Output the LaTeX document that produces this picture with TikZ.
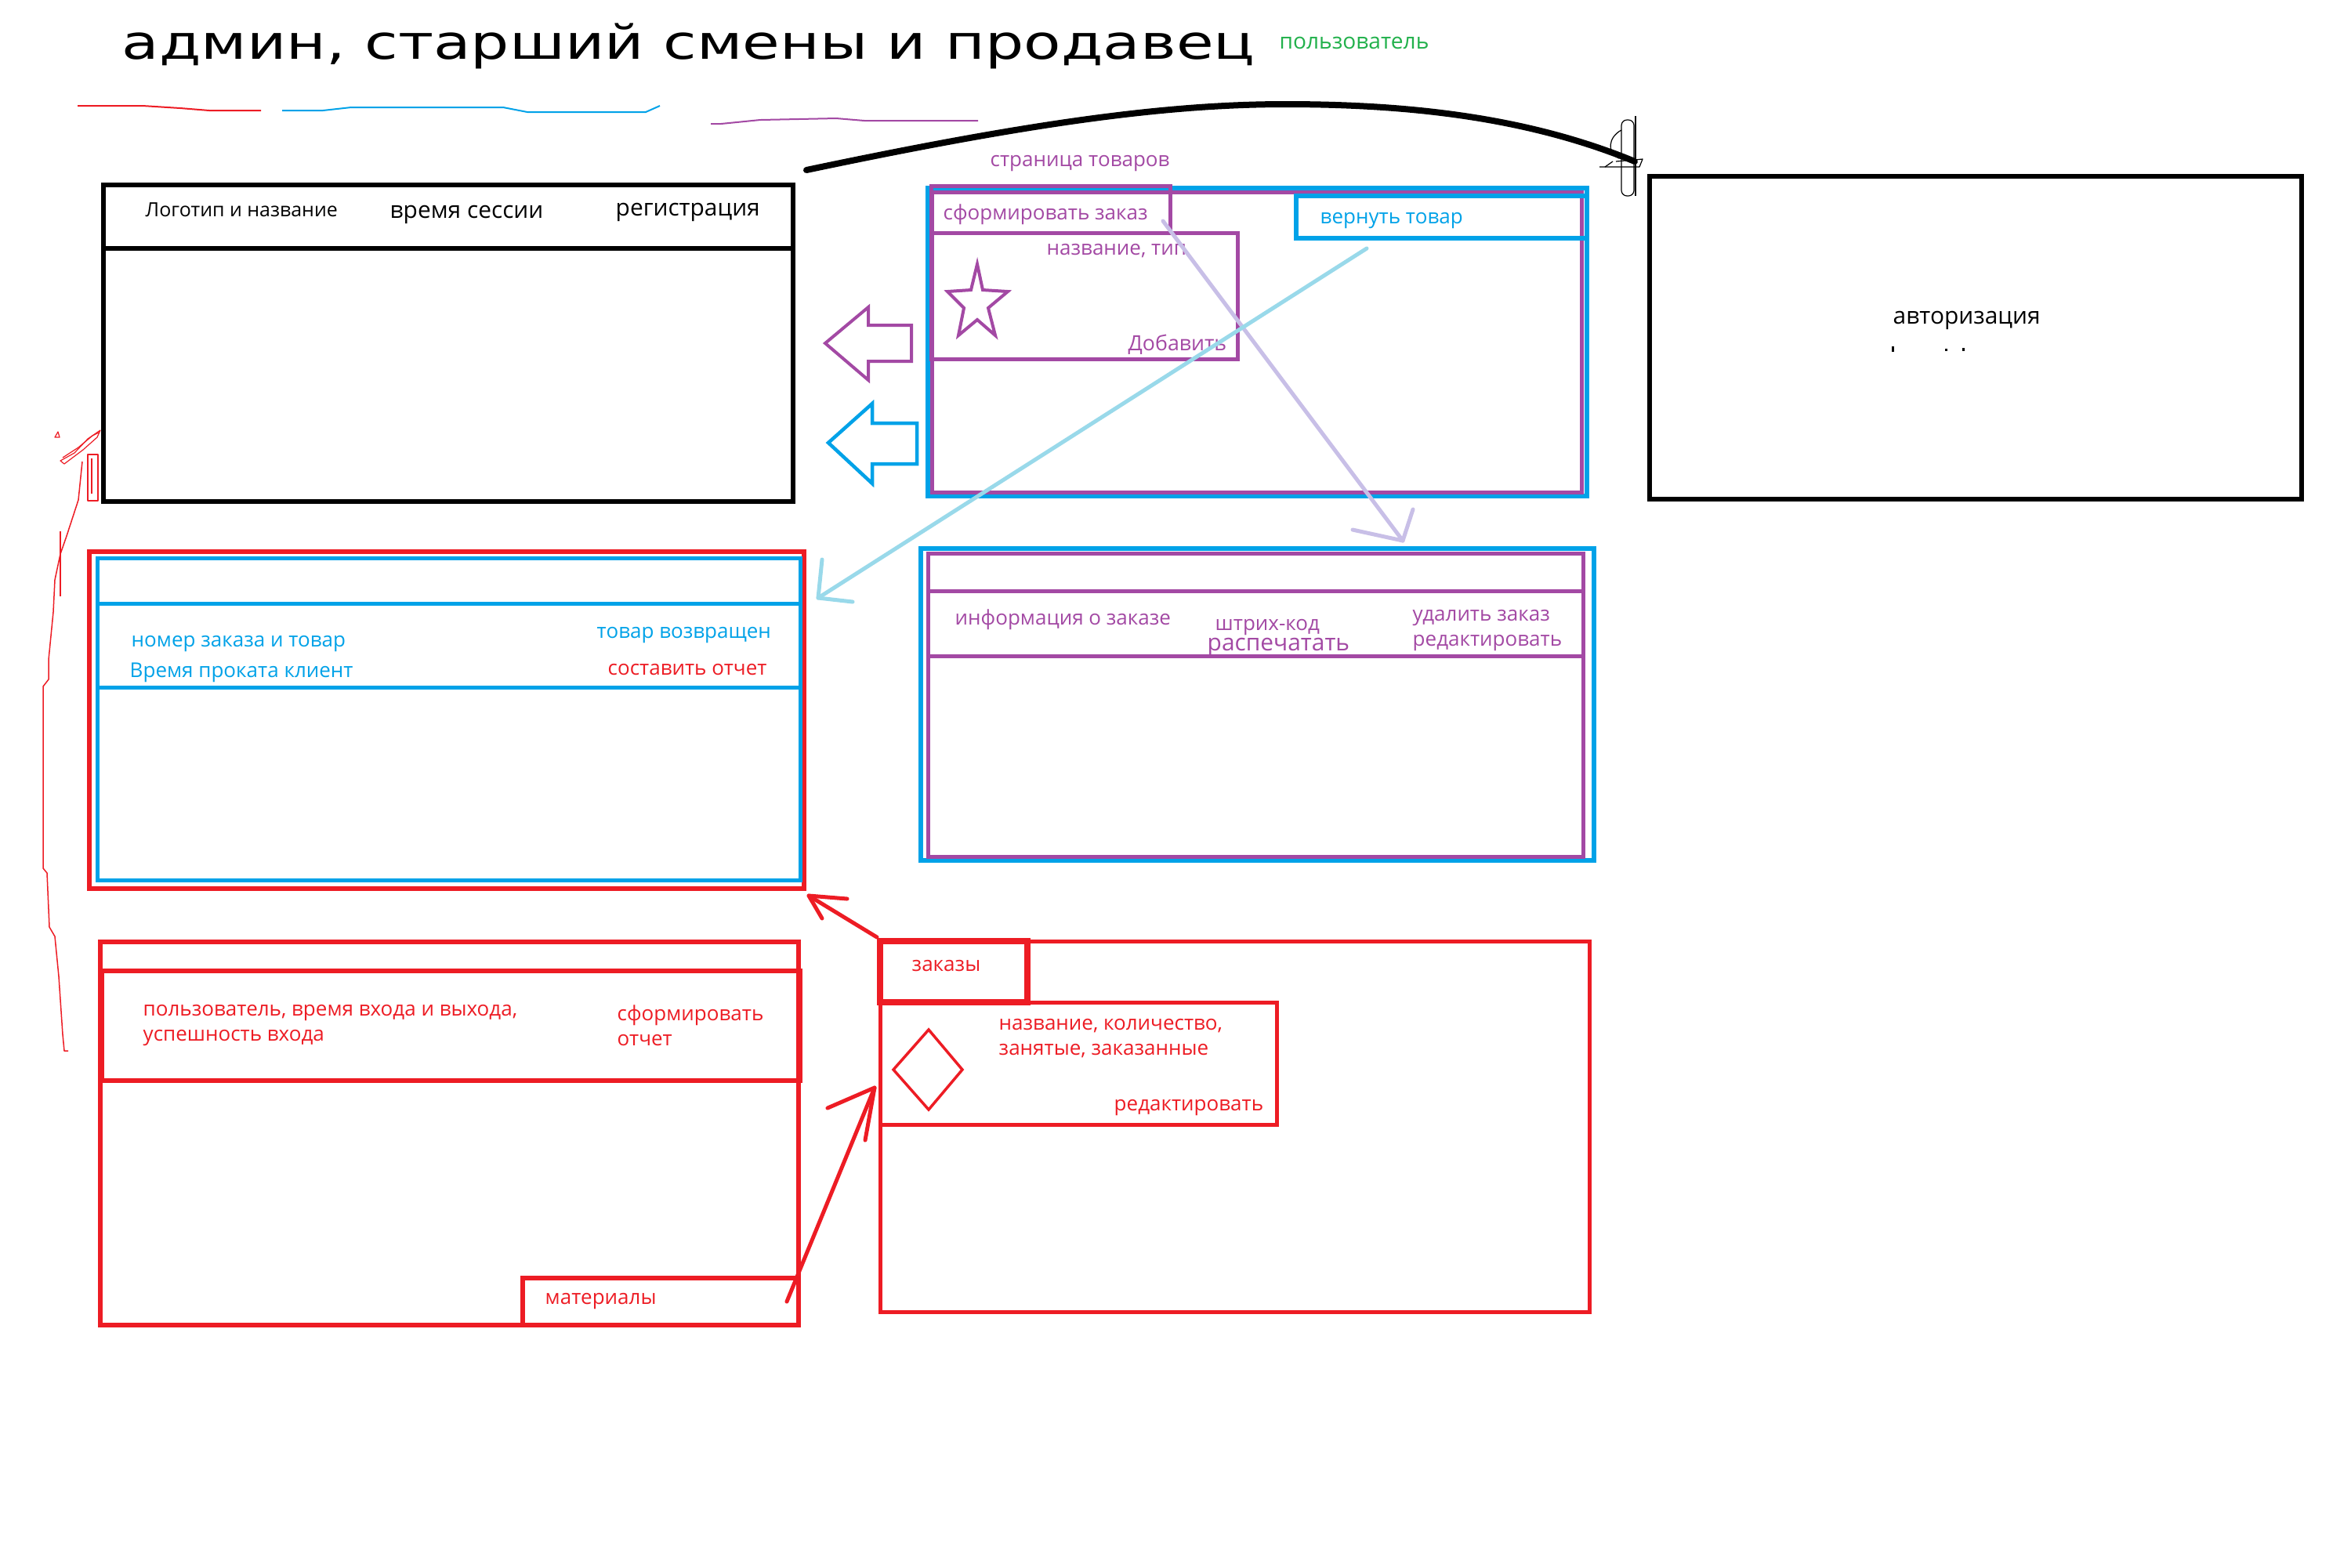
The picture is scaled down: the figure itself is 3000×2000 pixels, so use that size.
\documentclass[tikz,border=0pt]{standalone}
\usepackage{fontspec}
\usepackage{graphicx}
\setmainfont{Open Sans}
\newfontfamily\headfont{DejaVu Sans}
\definecolor{pred}{HTML}{ED1C24}
\definecolor{pblue}{HTML}{00A2E8}
\definecolor{ppurple}{HTML}{A349A4}
\definecolor{plight}{HTML}{99D9EA}
\definecolor{plav}{HTML}{C8BFE7}
\definecolor{pgreen}{HTML}{22B14C}
\tikzset{
  lbl/.style={inner sep=0pt, anchor=base west, font=\fontsize{7.4pt}{8.8pt}\selectfont},
  lblbig/.style={lbl, font=\fontsize{8.5pt}{10pt}\selectfont},
  frame/.style={line width=0.6mm, line join=miter},
  thinframe/.style={line width=0.5mm, line join=miter},
  pen/.style={line width=0.5mm, line cap=round, line join=round},
  scribble/.style={line width=0.12mm, line join=round},
}
\begin{document}
\begin{tikzpicture}[x=0.1mm, y=-0.1mm]
\useasboundingbox (0,0) rectangle (3000,2000);
\fill[white] (0,0) rectangle (3000,2000);

% heading
\node[inner sep=0pt, anchor=base west] (title) at (155,75)
  {\scalebox{1.29}[1]{\headfont\fontsize{17.1pt}{20pt}\selectfont админ, старший смены и продавец}};
\node[lbl, text=pgreen, font=\fontsize{8pt}{9.5pt}\selectfont] (user) at (1632,62) {пользователь};

% colour strokes under the heading
\draw[pred, line width=0.2mm] (99,135) -- (182,135) -- (230,138) -- (267,141) -- (333,141);
\draw[pblue, line width=0.2mm] (360,141) -- (412,141) -- (448,137) -- (642,137) -- (673,143) -- (824,143) -- (842,135);
\draw[ppurple, line width=0.2mm] (907,158) -- (920,158) -- (970,153) -- (1067,151) -- (1103,154) -- (1248,154);

% main header block
\coordinate (hdrA) at (132,236);
\coordinate (hdrB) at (1012,640);
\draw[frame] (hdrA) rectangle (hdrB);
\draw[frame] (132,317) -- (1012,317);
\node[lbl, font=\fontsize{7.1pt}{8.4pt}\selectfont] (logo) at (185,276) {Логотип и название};
\node[lblbig] (session) at (497,278) {время сессии};
\node[lblbig] (reg) at (785,275) {регистрация};

% authorization block and the curved link to it
\draw[frame] (2105,225) rectangle (2937,637);
\node[lblbig] (auth) at (2415,413) {авторизация};
\fill (2414,442) rectangle (2417,449);
\fill (2482,445) rectangle (2485,448);
\fill (2504,444) rectangle (2507,448);
\coordinate (arcS) at (1029,217);
\coordinate (arcE) at (2086,206);
\draw[line width=0.8mm, line cap=round] (arcS) .. controls (1300,160) and (1480,133) .. (1640,133)
  .. controls (1800,133) and (1950,150) .. (arcE);
% hand-drawn tip at the end of the curve
\draw[scribble, rounded corners=2] (2069,153) rectangle (2085,250);
\draw[scribble] (2087,148) -- (2087,250);
\draw[scribble] (2069,166) .. controls (2052,175) and (2050,195) .. (2066,202);
\draw[scribble] (2062,206) -- (2096,203) -- (2092,213) -- (2041,213);
\draw[scribble] (2058,206) -- (2048,213);

% product page
\node[lbl, text=ppurple] (prodtitle) at (1263,212) {страница товаров};
\draw[pblue, frame] (1184,240) rectangle (2025,633);
\draw[ppurple, thinframe] (1189,245) rectangle (2018,628);
\draw[ppurple, thinframe] (1188,237) rectangle (1493,297);
\draw[ppurple, thinframe] (1188,297) rectangle (1579,458);
\draw[pblue, frame] (1654,250) rectangle (2025,304);
\node[lbl, text=ppurple] (mkorder) at (1203,280) {сформировать заказ};
\node[lbl, text=pblue] (ret) at (1684,285) {вернуть товар};
\node[lbl, text=ppurple] (nametype) at (1335,325) {название, тип};
\node[lbl, text=ppurple, font=\fontsize{7.6pt}{9pt}\selectfont] (add) at (1439,447) {Добавить};
\draw[ppurple, line width=0.4mm, line join=miter]
  (1247,337) -- (1254,370) -- (1286,372) -- (1261,393) -- (1270,428) -- (1247,408)
  -- (1223,428) -- (1230,393) -- (1209,372) -- (1239,370) -- cycle;

% block arrows between the pages
\draw[ppurple, line width=0.4mm, line join=miter]
  (1053,438) -- (1108,392) -- (1108,415) -- (1163,415) -- (1163,461) -- (1108,461) -- (1108,485) -- cycle;
\draw[pblue, line width=0.45mm, line join=miter]
  (1057,565) -- (1113,515) -- (1113,540) -- (1170,540) -- (1170,592) -- (1113,592) -- (1113,617) -- cycle;

% order information page
\draw[pblue, frame] (1175,700) rectangle (2034,1098);
\draw[ppurple, thinframe] (1184,706) rectangle (2020,1093);
\draw[ppurple, thinframe] (1184,754) -- (2020,754);
\draw[ppurple, thinframe] (1184,837) -- (2020,837);
\node[lbl, text=ppurple] (info) at (1218,797) {информация о заказе};
\node[lbl, text=ppurple] (barcode) at (1550,804) {штрих-код};
\node[lblbig, text=ppurple] (print) at (1540,830) {распечатать};
\node[lbl, text=ppurple] (del) at (1802,792) {удалить заказ};
\node[lbl, text=ppurple] (edit1) at (1802,824) {редактировать};

% returns page
\draw[pred, frame] (114,704) rectangle (1026,1134);
\draw[pblue, thinframe] (124,712) rectangle (1021,1123);
\draw[pblue, thinframe] (124,770) -- (1021,770);
\draw[pblue, thinframe] (124,877) -- (1021,877);
\node[lbl, text=pblue] (num) at (167,825) {номер заказа и товар};
\node[lbl, text=pblue] (rent) at (165,864) {Время проката клиент};
\node[lbl, text=pblue] (back) at (761,814) {товар возвращен};
\node[lbl, text=pred] (rep1) at (775,861) {составить отчет};

% connectors drawn over the product page
\coordinate (lavS) at (1484,282);
\coordinate (lavT) at (1790,690);
\draw[plav, pen] (lavS) -- (lavT);
\draw[plav, pen] (1726,676) -- (lavT) -- (1803,650);
\coordinate (lbS) at (1744,317);
\coordinate (lbT) at (1044,763);
\draw[plight, pen] (lbS) -- (lbT);
\draw[plight, pen] (1049,714) -- (lbT) -- (1088,768);

% login journal page
\draw[pred, frame] (128,1202) rectangle (1019,1691);
\draw[pred, frame] (130,1239) rectangle (1021,1379);
\draw[pred, frame] (667,1631) rectangle (1019,1691);
\node[lbl, text=pred] (log1) at (182,1296) {пользователь, время входа и выхода,};
\node[lbl, text=pred] (log2) at (182,1328) {успешность входа};
\node[lbl, text=pred] (rep2a) at (787,1302) {сформировать};
\node[lbl, text=pred] (rep2b) at (787,1334) {отчет};
\node[lbl, text=pred] (mat) at (695,1664) {материалы};

% orders page
\draw[pred, thinframe] (1123,1201) rectangle (2028,1674);
\draw[pred, line width=0.75mm, line join=miter] (1123,1201) rectangle (1311,1279);
\draw[pred, thinframe] (1123,1279) rectangle (1629,1435);
\node[lbl, text=pred] (orders) at (1163,1239) {заказы};
\node[lbl, text=pred] (qty1) at (1274,1314) {название, количество,};
\node[lbl, text=pred] (qty2) at (1274,1346) {занятые, заказанные};
\node[lbl, text=pred] (edit2) at (1421,1417) {редактировать};
\draw[pred, line width=0.35mm, line join=miter] (1185,1314) -- (1228,1365) -- (1185,1416) -- (1140,1365) -- cycle;

% red connectors
\coordinate (rS1) at (1004,1661);
\coordinate (rT1) at (1116,1388);
\draw[pred, pen] (rS1) -- (rT1);
\draw[pred, pen] (1056,1414) -- (rT1) -- (1104,1455);
\coordinate (rS2) at (1119,1196);
\coordinate (rT2) at (1032,1143);
\draw[pred, pen] (rS2) -- (rT2);
\draw[pred, pen] (1081,1147) -- (rT2) -- (1049,1172);

% thin red hand line on the left
\draw[pred, line width=0.15mm, line join=round]
  (87,1341) -- (82,1341) -- (80,1320) -- (75,1246) -- (70,1195) -- (63,1183) -- (60,1114)
  -- (55,1108) -- (55,876) -- (62,867) -- (62,842) -- (68,781) -- (70,740) -- (77,707)
  -- (85,684) -- (100,638) -- (105,589);
\draw[pred, line width=0.15mm] (77,678) -- (77,761);
\draw[pred, scribble] (77,588) -- (95,578) -- (112,560) -- (128,549) -- (124,558) -- (106,574) -- (82,592) -- cycle;
\draw[pred, scribble] (80,584) -- (100,571) -- (118,556) -- (126,552);
\draw[pred, scribble] (112,580) rectangle (125,639);
\draw[pred, scribble] (117,585) -- (117,630);
\draw[pred, scribble] (70,558) -- (74,551) -- (76,558) -- cycle;
\end{tikzpicture}
\end{document}
